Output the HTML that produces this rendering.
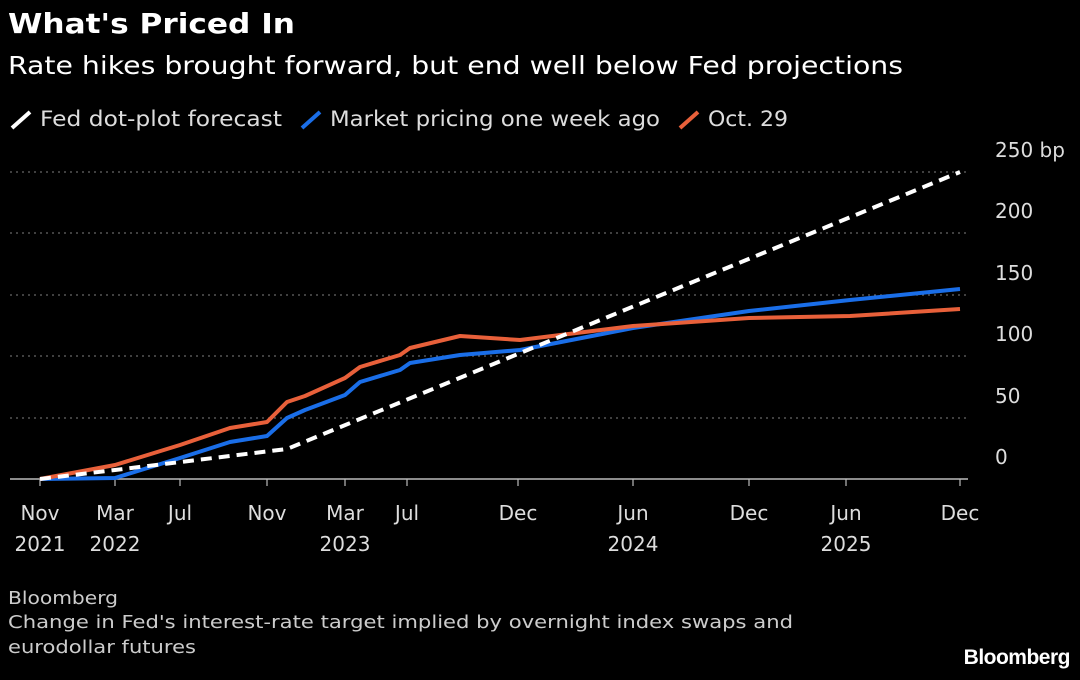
<!DOCTYPE html>
<html><head><meta charset="utf-8"><style>
body{margin:0;background:#000;width:1080px;height:675px;overflow:hidden;font-family:"Liberation Sans",sans-serif;color:#fff}
</style></head><body>
<svg width="1080" height="675" viewBox="0 0 1080 675" xmlns="http://www.w3.org/2000/svg" font-family="DejaVu Sans, sans-serif">
<rect width="1080" height="675" fill="#000"/>
<text x="8" y="33" font-size="28" font-weight="bold" fill="#fff" textLength="287" lengthAdjust="spacingAndGlyphs">What's Priced In</text>
<text x="8" y="74" font-size="25" fill="#fff" textLength="895" lengthAdjust="spacingAndGlyphs">Rate hikes brought forward, but end well below Fed projections</text>
<g font-size="21" fill="#ddd">
<line x1="12" y1="128" x2="30" y2="112" stroke="#fff" stroke-width="4"/>
<text x="40" y="126" textLength="242" lengthAdjust="spacingAndGlyphs">Fed dot-plot forecast</text>
<line x1="302" y1="128" x2="320" y2="112" stroke="#1a6ee8" stroke-width="4"/>
<text x="330" y="126" textLength="330" lengthAdjust="spacingAndGlyphs">Market pricing one week ago</text>
<line x1="680" y1="128" x2="698" y2="112" stroke="#e8603a" stroke-width="4"/>
<text x="708" y="126" textLength="80" lengthAdjust="spacingAndGlyphs">Oct. 29</text>
</g>
<g stroke="#666" stroke-width="1.2" stroke-dasharray="2,4">
<line x1="10" y1="172" x2="968" y2="172"/>
<line x1="10" y1="233" x2="968" y2="233"/>
<line x1="10" y1="295" x2="968" y2="295"/>
<line x1="10" y1="356" x2="968" y2="356"/>
<line x1="10" y1="418" x2="968" y2="418"/>
</g>
<line x1="10" y1="479" x2="968" y2="479" stroke="#bbb" stroke-width="1.5"/>
<g font-size="20" fill="#ddd">
<text x="995" y="157">250 bp</text>
<text x="995" y="218">200</text>
<text x="995" y="280">150</text>
<text x="995" y="341">100</text>
<text x="995" y="403">50</text>
<text x="995" y="464">0</text>
</g>
<g stroke="#bbb" stroke-width="1.2">
<line x1="40" y1="479" x2="40" y2="486"/><line x1="115" y1="479" x2="115" y2="486"/><line x1="180" y1="479" x2="180" y2="486"/><line x1="267" y1="479" x2="267" y2="486"/><line x1="345" y1="479" x2="345" y2="486"/><line x1="407" y1="479" x2="407" y2="486"/><line x1="518" y1="479" x2="518" y2="486"/><line x1="633" y1="479" x2="633" y2="486"/><line x1="749" y1="479" x2="749" y2="486"/><line x1="846" y1="479" x2="846" y2="486"/><line x1="960" y1="479" x2="960" y2="486"/>
</g>
<g font-size="20" fill="#ddd" text-anchor="middle">
<text x="40" y="520">Nov</text><text x="40" y="551">2021</text>
<text x="115" y="520">Mar</text><text x="115" y="551">2022</text>
<text x="180" y="520">Jul</text>
<text x="267" y="520">Nov</text>
<text x="345" y="520">Mar</text><text x="345" y="551">2023</text>
<text x="407" y="520">Jul</text>
<text x="518" y="520">Dec</text>
<text x="633" y="520">Jun</text><text x="633" y="551">2024</text>
<text x="749" y="520">Dec</text>
<text x="846" y="520">Jun</text><text x="846" y="551">2025</text>
<text x="960" y="520">Dec</text>
</g>
<polyline fill="none" stroke="#1a6ee8" stroke-width="4" stroke-linejoin="round" points="40,479 115,478 180,458 230,442 267,436 287,418 305,410 345,395 360,382 400,370 410,363 460,355 520,350 633,328 749,311 850,300 960,289"/>
<polyline fill="none" stroke="#e8603a" stroke-width="4" stroke-linejoin="round" points="40,479 115,465 180,445 230,428 267,422 287,402 305,396 345,378 360,367 400,355 410,348 460,336 520,340 633,326 749,318 850,316 960,309"/>
<polyline fill="none" stroke="#fff" stroke-width="4" stroke-dasharray="11,7" points="40,479 115,470 287,449 960,172"/>
<g font-size="18" fill="#ccc">
<text x="8" y="604" textLength="110" lengthAdjust="spacingAndGlyphs">Bloomberg</text>
<text x="8" y="628" textLength="785" lengthAdjust="spacingAndGlyphs">Change in Fed's interest-rate target implied by overnight index swaps and</text>
<text x="8" y="653" textLength="188" lengthAdjust="spacingAndGlyphs">eurodollar futures</text>
</g>
<text x="1070" y="664" font-size="21" font-weight="bold" fill="#fff" text-anchor="end" font-family="Liberation Sans, sans-serif" letter-spacing="-0.5">Bloomberg</text>
</svg>
</body></html>
